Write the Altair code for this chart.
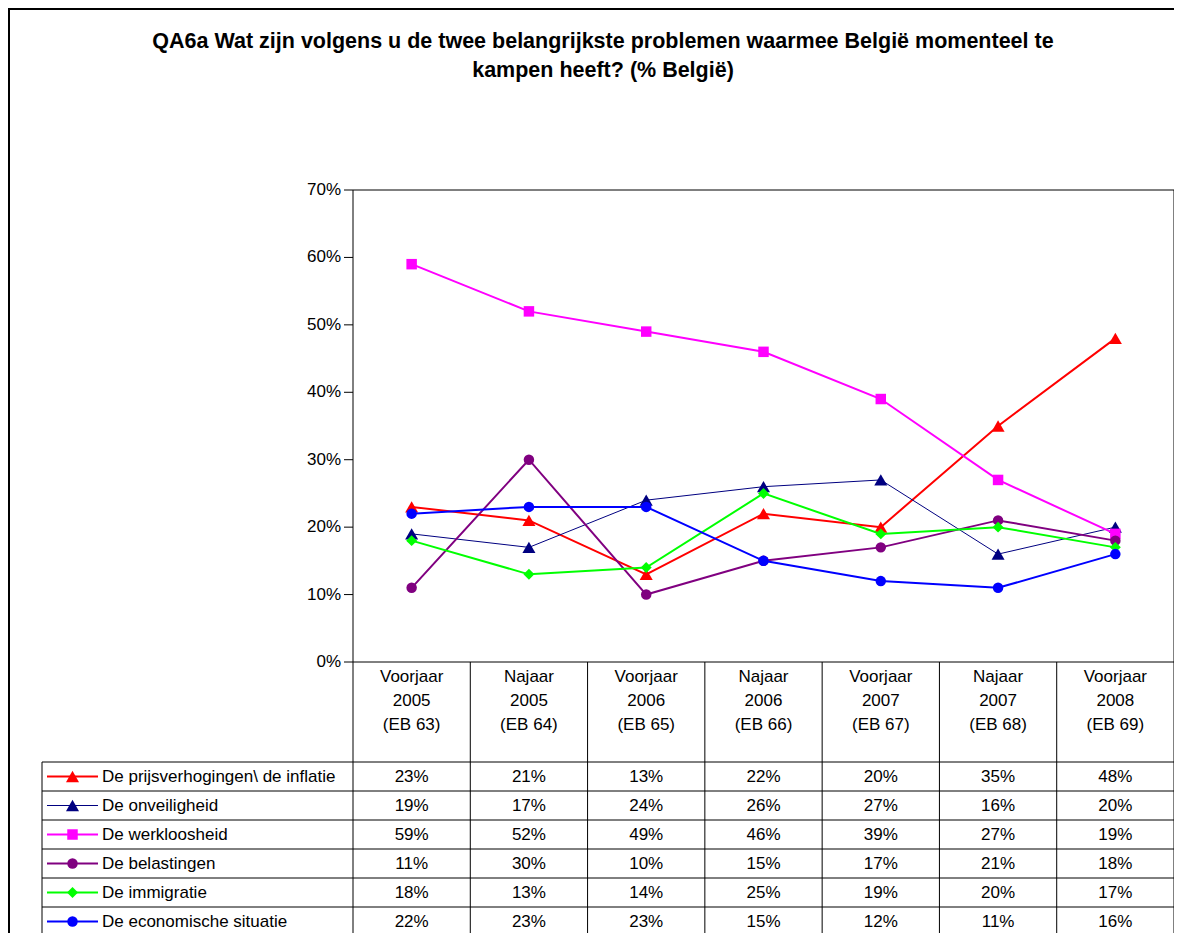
import altair as alt
import pandas as pd

# ---------------- data ----------------
categories = ["Voorjaar\n2005\n(EB 63)", "Najaar\n2005\n(EB 64)", "Voorjaar\n2006\n(EB 65)",
              "Najaar\n2006\n(EB 66)", "Voorjaar\n2007\n(EB 67)", "Najaar\n2007\n(EB 68)",
              "Voorjaar\n2008\n(EB 69)"]
series_names = ["De prijsverhogingen\\ de inflatie", "De onveiligheid", "De werkloosheid",
                "De belastingen", "De immigratie", "De economische situatie"]
v_inflatie = [23, 21, 13, 22, 20, 35, 48]
v_onveiligheid = [19, 17, 24, 26, 27, 16, 20]
v_werkloosheid = [59, 52, 49, 46, 39, 27, 19]
v_belastingen = [11, 30, 10, 15, 17, 21, 18]
v_immigratie = [18, 13, 14, 25, 19, 20, 17]
v_economisch = [22, 23, 23, 15, 12, 11, 16]
series_values = [v_inflatie, v_onveiligheid, v_werkloosheid, v_belastingen, v_immigratie, v_economisch]
y_ticks = [0, 10, 20, 30, 40, 50, 60, 70]
title_lines = ["QA6a Wat zijn volgens u de twee belangrijkste problemen waarmee België momenteel te",
               "kampen heeft? (% België)"]

# ---------------- styles ----------------
colors = ["#FF0000", "#000080", "#FF00FF", "#800080", "#00FF00", "#0000FF"]
shapes = ["triangle-up", "triangle-up", "square", "circle", "diamond", "circle"]
stroke_widths = [2, 1, 2, 2, 2, 2]
marker_sizes = [170, 170, 110, 110, 120, 110]
FONT = "Liberation Sans"
FS = 17
TITLE_FS = 21.5

# ---------------- layout (page pixels -> scale units) ----------------
PLOT_LEFT, PLOT_RIGHT, TABLE_LEFT = 353, 1174, 42
PLOT_TOP, ZERO_Y, HEADER_BOTTOM, ROW_H, N_ROWS = 190, 662, 762, 29, 6
SVG_BOTTOM = 933
PX = (ZERO_Y - PLOT_TOP) / 70.0
COL = (PLOT_RIGHT - PLOT_LEFT) / 7.0


def xu(px):
    return (px - PLOT_LEFT) / COL


def yu(py):
    return (ZERO_Y - py) / PX


W = PLOT_RIGHT - TABLE_LEFT
H = SVG_BOTTOM - PLOT_TOP
YMIN = yu(SVG_BOTTOM)
xs = alt.Scale(domain=[xu(TABLE_LEFT), 7], nice=False, zero=False)
ys = alt.Scale(domain=[YMIN, 70], nice=False, zero=False)


def X(f):
    return alt.X(f, scale=xs, axis=None)


def Y(f):
    return alt.Y(f, scale=ys, axis=None)


# ---------------- tables ----------------
row_y = [yu(HEADER_BOTTOM + ROW_H * i + ROW_H / 2) for i in range(N_ROWS)]

cat_df = pd.DataFrame({"x": [i + 0.5 for i in range(7)], "label": categories, "y": [yu(669)] * 7})
tick_df = pd.DataFrame({"v": y_ticks, "label": [f"{v}%" for v in y_ticks],
                        "xt": [xu(PLOT_LEFT - 12)] * len(y_ticks),
                        "xa": [xu(PLOT_LEFT - 9)] * len(y_ticks), "xb": [0] * len(y_ticks)})

segs = []
segs.append({"x": 0, "x2": 7, "y": 70, "y2": 70})          # plot top
segs.append({"x": 0, "x2": 7, "y": 0, "y2": 0})            # plot bottom
segs.append({"x": 0, "x2": 0, "y": 70, "y2": YMIN})        # left axis
segs.append({"x": 7, "x2": 7, "y": 70, "y2": YMIN})        # right border
for i in range(1, 7):
    segs.append({"x": i, "x2": i, "y": 0, "y2": YMIN})
for r in range(N_ROWS):
    yy = yu(HEADER_BOTTOM + ROW_H * r)
    segs.append({"x": xu(TABLE_LEFT), "x2": 7, "y": yy, "y2": yy})
segs.append({"x": xu(TABLE_LEFT), "x2": xu(TABLE_LEFT), "y": yu(HEADER_BOTTOM), "y2": YMIN})
seg_df = pd.DataFrame(segs)

# ---------------- layers ----------------
one = pd.DataFrame({"a": [0]})
frame_top = alt.Chart(one).mark_rule(color="#000000", strokeWidth=2).encode(
    x=alt.value(-(TABLE_LEFT - 8)), x2=alt.value(W + 8), y=alt.value(-(PLOT_TOP - 9)))
frame_left = alt.Chart(one).mark_rule(color="#000000", strokeWidth=2).encode(
    x=alt.value(-(TABLE_LEFT - 9)), y=alt.value(-(PLOT_TOP - 8)), y2=alt.value(H))
TITLE_X = 603 - TABLE_LEFT
title1 = alt.Chart(one).mark_text(font=FONT, fontSize=TITLE_FS, fontWeight="bold", align="center",
                                  baseline="middle", color="#000000").encode(
    x=alt.value(TITLE_X), y=alt.value(42 - PLOT_TOP), text=alt.value(title_lines[0]))
title2 = alt.Chart(one).mark_text(font=FONT, fontSize=TITLE_FS, fontWeight="bold", align="center",
                                  baseline="middle", color="#000000").encode(
    x=alt.value(TITLE_X), y=alt.value(71 - PLOT_TOP), text=alt.value(title_lines[1]))

grid = alt.Chart(seg_df).mark_rule(color="#000000", strokeWidth=1).encode(
    x=X("x:Q"), x2="x2", y=Y("y:Q"), y2="y2")

ticks = alt.Chart(tick_df).mark_rule(color="#000000", strokeWidth=1).encode(
    x=X("xa:Q"), x2="xb", y=Y("v:Q"))
tick_labels = alt.Chart(tick_df).mark_text(align="right", baseline="middle", font=FONT, fontSize=FS,
                                           color="#000000").encode(
    x=X("xt:Q"), y=Y("v:Q"), text="label:N")

cat_text = alt.Chart(cat_df).mark_text(align="center", baseline="top", font=FONT, fontSize=FS,
                                       lineBreak="\n", lineHeight=24, color="#000000").encode(
    x=X("x:Q"), y=Y("y:Q"), text="label:N")

layers = [frame_top, frame_left, title1, title2, grid, ticks, tick_labels, cat_text]

for si, (name, vals) in enumerate(zip(series_names, series_values)):
    d = pd.DataFrame({"x": [i + 0.5 for i in range(len(vals))], "value": vals,
                      "label": [f"{v}%" for v in vals], "ty": [row_y[si]] * len(vals)})
    layers.append(alt.Chart(d).mark_line(color=colors[si], strokeWidth=stroke_widths[si]).encode(
        x=X("x:Q"), y=Y("value:Q")))
    layers.append(alt.Chart(d).mark_point(filled=True, opacity=1, color=colors[si], shape=shapes[si],
                                          size=marker_sizes[si]).encode(x=X("x:Q"), y=Y("value:Q")))
    layers.append(alt.Chart(d).mark_text(align="center", baseline="middle", font=FONT, fontSize=FS,
                                         color="#000000").encode(x=X("x:Q"), y=Y("ty:Q"), text="label:N"))
    ld = pd.DataFrame({"name": [name], "x1": [xu(47)], "x2": [xu(98)], "xm": [xu(72.5)],
                       "xt": [xu(102)], "y": [row_y[si]]})
    layers.append(alt.Chart(ld).mark_rule(color=colors[si], strokeWidth=stroke_widths[si]).encode(
        x=X("x1:Q"), x2="x2", y=Y("y:Q")))
    layers.append(alt.Chart(ld).mark_point(filled=True, opacity=1, color=colors[si], shape=shapes[si],
                                           size=marker_sizes[si]).encode(x=X("xm:Q"), y=Y("y:Q")))
    layers.append(alt.Chart(ld).mark_text(align="left", baseline="middle", font=FONT, fontSize=FS,
                                          color="#000000").encode(x=X("xt:Q"), y=Y("y:Q"), text="name:N"))

chart = alt.layer(*layers).properties(
    width=W, height=H,
    autosize=alt.AutoSizeParams(type="none"),
    padding={"left": TABLE_LEFT - 8, "top": PLOT_TOP - 8, "right": 0, "bottom": 0},
).configure_view(stroke=None)

chart.save("out.html", embed_options={"renderer": "svg", "actions": False})
